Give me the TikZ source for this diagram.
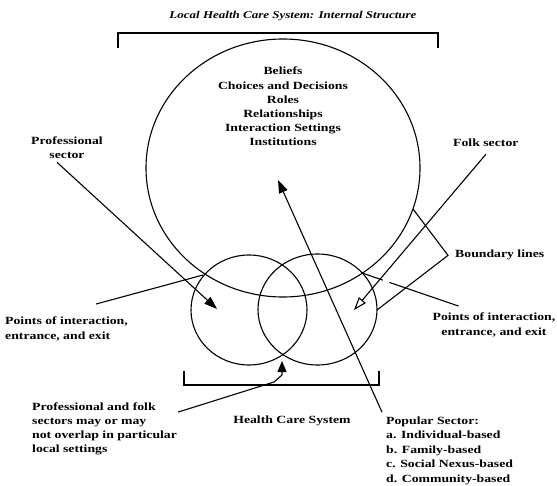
\documentclass[tikz,border=0pt]{standalone}
\usepackage{fontspec}
\setmainfont{Liberation Serif}[FakeStretch=1.25]
\usetikzlibrary{arrows.meta}
\tikzset{
  lbl/.style={font=\fontsize{11}{14.5}\selectfont\bfseries, inner sep=0pt},
  ttl/.style={font=\fontsize{10.4}{12}\selectfont\bfseries\itshape, inner sep=0pt},
  ln/.style={line width=1.1pt},
  filledtip/.style={-{Triangle[length=13pt,width=9pt]}},
  smalltip/.style={-{Triangle[length=11pt,width=9pt]}},
  opentip/.style={-{Triangle[open,length=13pt,width=9pt]}},
}
\begin{document}
\begin{tikzpicture}[x=1pt,y=-1pt]
\path[use as bounding box] (0,0) rectangle (557,486);
\fill[white] (0,0) rectangle (557,486);

% title and brackets
\node[ttl, anchor=base] (title) at (293,19) {Local Health Care System: Internal Structure};
\draw[ln] (118,48) -- (118,33) -- (438,33) -- (438,48);
\draw[ln] (184,371) -- (184,385) -- (379,385) -- (379,371);

% circles
\draw[ln] (283,168) ellipse[x radius=137pt, y radius=129pt];
\draw[ln] (249,310) ellipse[x radius=58pt, y radius=55pt];
\draw[ln] (317.5,309.5) ellipse[x radius=59.5pt, y radius=55.5pt];

% inner text (anchor base = baseline of the last line)
\node[lbl, font=\fontsize{11}{14.2}\selectfont\bfseries, align=center, anchor=base] (inner) at (283,146)
  {Beliefs\\Choices and Decisions\\Roles\\Relationships\\Interaction Settings\\Institutions};

% labels
\node[lbl, align=center, anchor=base] (prof) at (67,159) {Professional\\sector};
\node[lbl, anchor=base west] (folk) at (453,147) {Folk sector};
\node[lbl, anchor=base west] (bound) at (455,258) {Boundary lines};
\node[lbl, align=left, anchor=base west] (lpts) at (5,339.5) {Points of interaction,\\entrance, and exit};
\node[lbl, align=center, anchor=base] (rpts) at (494,335.5) {Points of interaction,\\entrance, and exit};
\node[lbl, font=\fontsize{11}{14}\selectfont\bfseries, align=left, anchor=base west] (ovl) at (32,452)
  {Professional and folk\\sectors may or may\\not overlap in particular\\local settings};
\node[lbl, anchor=base] (hcs) at (292,423) {Health Care System};
\node[lbl, align=left, anchor=base west] (pop) at (386,482)
  {Popular Sector:\\a. Individual-based\\b. Family-based\\c. Social Nexus-based\\d. Community-based};

% target points
\coordinate (profend) at (217,309);
\coordinate (folkend) at (354,310);
\coordinate (popend) at (278,180);
\coordinate (ovend) at (282,361);
\coordinate (bbig) at (413,209);
\coordinate (bsmall) at (377,310);
\coordinate (lpt) at (203,275);
\coordinate (rpt) at (362,273);

% connectors
\draw[ln, filledtip] ([xshift=-10pt,yshift=-3pt]prof.south) -- (profend);
\draw[ln, opentip] ([yshift=-7pt]folk.south) -- (folkend);
\draw[ln, filledtip] ([xshift=-4pt,yshift=4pt]pop.north west) -- (popend);
\draw[ln] (bbig) -- ([xshift=-7pt]bound.west) -- (bsmall);
\draw[ln] ([xshift=-32pt,yshift=13pt]lpts.north east) -- (lpt);
\draw[ln, dash pattern=on 22pt off 7pt on 200pt] (rpt) -- ([xshift=26pt,yshift=7pt]rpts.north west);
\draw[ln, smalltip] ([xshift=1pt,yshift=-10pt]ovl.north east) -- (274,382) -- (282,375) -- (ovend);
\end{tikzpicture}
\end{document}
